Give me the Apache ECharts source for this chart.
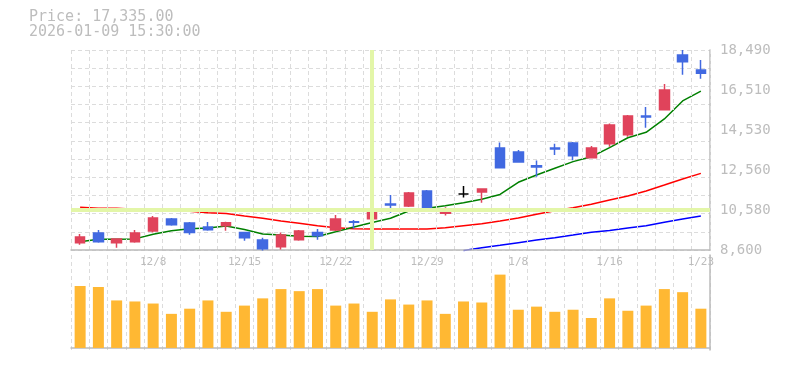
<!DOCTYPE html>
<html>
<head>
<meta charset="utf-8">
<script src="https://cdn.jsdelivr.net/npm/echarts@6/dist/echarts.min.js"></script>
<style>
html,body{margin:0;padding:0;background:#fff;}
#chart{width:785px;height:370px;}
</style>
</head>
<body>
<div id="chart"></div>
<script>
const categories = ['12/2','12/3','12/4','12/5','12/8','12/9','12/10','12/11','12/12','12/15','12/16','12/17','12/18','12/19','12/22','12/23','12/24','12/25','12/26','12/29','12/30','1/5','1/6','1/7','1/8','1/9','1/13','1/14','1/15','1/16','1/19','1/20','1/21','1/22','1/23'];
const xTickLabels = ['12/8','12/15','12/22','12/29','1/8','1/16','1/23'];
const priceTickLabels = ['8,600','10,580','12,560','14,530','16,510','18,490'];
const priceMin = 8600, priceMax = 18490;

const opens  = [8960,9440,8960,9010,9540,10130,9940,9740,9800,9460,9090,8760,9110,9460,9590,10000,10150,10870,10780,11520,10420,11370,11470,13640,13450,12770,13640,13890,13160,13860,14300,15230,15540,18240,17500];
const closes = [9240,9010,9140,9440,10180,9850,9460,9600,9950,9210,8660,9340,9540,9310,10130,9970,10630,10820,11420,10610,10510,11370,11620,12670,12950,12700,13600,13260,13640,14780,15230,15180,16510,17910,17335];
const lows   = [8860,8960,8710,8960,9460,9800,9360,9550,9550,9060,8580,8630,9060,9110,9540,9650,10050,10440,10730,10580,10300,11190,10940,12670,12950,12220,13300,13040,13130,13710,14200,14650,15540,17270,17070];
const highs  = [9390,9590,9180,9590,10280,10180,9990,9990,10000,9500,9210,9460,9590,9640,10330,10080,10740,11320,11470,11570,10710,11760,11620,13910,13550,13020,13860,13940,13740,14850,15280,15670,16810,18490,18000];

const ma5  = [9010,9130,9130,9150,9380,9550,9650,9690,9790,9610,9390,9340,9280,9270,9500,9740,9960,10170,10530,10660,10790,10940,11110,11345,11950,12310,12640,12970,13210,13660,14150,14420,15080,15970,16460];
const ma25 = [10710,10660,10660,10610,10610,10560,10510,10440,10400,10280,10170,10030,9920,9800,9700,9650,9640,9640,9640,9640,9700,9800,9900,10030,10180,10370,10540,10690,10860,11070,11270,11520,11810,12110,12390];
const ma75 = [null,null,null,null,null,null,null,null,null,null,null,null,null,null,null,null,null,null,null,null,null,8570,8710,8830,8960,9090,9210,9340,9480,9570,9690,9800,9970,10130,10280];

const volumes = [600000,590000,460000,450000,430000,330000,380000,460000,350000,410000,480000,570000,550000,570000,410000,430000,350000,470000,420000,460000,330000,450000,440000,710000,370000,400000,350000,370000,290000,480000,360000,410000,570000,540000,380000];

const crosshairDate = '12/24';
const crosshairPrice = 10610;
const headerPrice = 'Price: 17,335.00';
const headerTime = '2026-01-09 15:30:00';

const FONT = 'DejaVu Sans Mono';
const TXT = '#bdbdbd';
const AXIS = '#bbbbbb';
const GRIDC = '#dcdcdc';

const ohlc = categories.map((c, i) => [opens[i], closes[i], lows[i], highs[i]]);

const chart = echarts.init(document.getElementById('chart'), null, {renderer: 'canvas'});
chart.setOption({
  animation: false,
  backgroundColor: '#fff',
  graphic: [
    {type: 'text', left: 29, top: 10, style: {text: headerPrice, font: '15px "' + FONT + '"', fill: TXT}},
    {type: 'text', left: 29, top: 25, style: {text: headerTime, font: '15px "' + FONT + '"', fill: TXT}}
  ],
  grid: [
    {left: 71, right: 75, top: 50, bottom: 120},
    {left: 71, right: 75, top: 255, bottom: 20}
  ],
  xAxis: [
    {
      type: 'category', data: categories, gridIndex: 0, boundaryGap: true,
      axisLine: {show: true, lineStyle: {color: AXIS, width: 1.5}},
      axisTick: {show: false},
      axisLabel: {
        show: true, margin: 7, color: TXT, fontFamily: FONT, fontSize: 11,
        interval: (idx, val) => xTickLabels.includes(val),
        formatter: v => v
      },
      splitLine: {show: true, interval: 0, lineStyle: {color: GRIDC, type: [4, 3], width: 1}},
      z: 3
    },
    {
      type: 'category', data: categories, gridIndex: 1, boundaryGap: true,
      axisLine: {show: true, lineStyle: {color: AXIS, width: 1.5}},
      axisTick: {show: false},
      axisLabel: {show: false},
      splitLine: {show: true, interval: 0, lineStyle: {color: GRIDC, type: [4, 3], width: 1}}
    }
  ],
  yAxis: [
    {type: 'value', gridIndex: 0, min: priceMin, max: priceMax, show: false, scale: true},
    {
      type: 'value', gridIndex: 0, min: 0, max: 11, interval: 1, position: 'left',
      axisLine: {show: false}, axisTick: {show: false}, axisLabel: {show: false},
      splitLine: {show: true, lineStyle: {color: GRIDC, type: [4, 3], width: 1}}
    },
    {
      type: 'value', gridIndex: 0, min: 0, max: 5, interval: 1, position: 'right',
      axisLine: {show: true, onZero: false, lineStyle: {color: AXIS, width: 1.5}},
      axisTick: {show: false},
      splitLine: {show: false},
      axisLabel: {
        show: true, margin: 10, align: 'left', color: TXT, fontFamily: FONT, fontSize: 14,
        padding: [5, 0, 0, 0],
        formatter: v => priceTickLabels[Math.round(v)]
      }
    },
    {
      type: 'value', gridIndex: 1, min: -20000, max: 900000, position: 'right',
      axisLine: {show: true, onZero: false, lineStyle: {color: AXIS, width: 1.5}},
      axisTick: {show: false}, axisLabel: {show: false}, splitLine: {show: false}
    }
  ],
  series: [
    {
      type: 'line', xAxisIndex: 0, yAxisIndex: 0, data: [], silent: true, z: 1,
      markLine: {
        symbol: 'none', silent: true, animation: false,
        label: {show: false},
        lineStyle: {color: '#e3f6a8', width: 4, type: 'solid', opacity: 1},
        data: [{xAxis: crosshairDate}, {yAxis: crosshairPrice}]
      }
    },
    {type: 'line', name: 'MA75', xAxisIndex: 0, yAxisIndex: 0, data: ma75, showSymbol: false, symbol: 'none', clip: false,
      lineStyle: {color: '#0000ff', width: 1.5}, z: 2},
    {type: 'line', name: 'MA25', xAxisIndex: 0, yAxisIndex: 0, data: ma25, showSymbol: false, symbol: 'none',
      lineStyle: {color: '#ff0000', width: 1.5}, z: 2},
    {type: 'line', name: 'MA5', xAxisIndex: 0, yAxisIndex: 0, data: ma5, showSymbol: false, symbol: 'none',
      lineStyle: {color: '#008000', width: 1.5}, z: 2},
    {
      type: 'candlestick', xAxisIndex: 0, yAxisIndex: 0, data: ohlc, barWidth: 10, z: 4,
      itemStyle: {
        color: '#e0435b', color0: '#4169e1',
        borderColor: '#e0435b', borderColor0: '#4169e1', borderColorDoji: '#000000',
        borderWidth: 1.5
      }
    },
    {
      type: 'bar', xAxisIndex: 1, yAxisIndex: 3, data: volumes, barWidth: 11,
      itemStyle: {color: '#ffb833'}
    }
  ]
});
</script>
</body>
</html>
